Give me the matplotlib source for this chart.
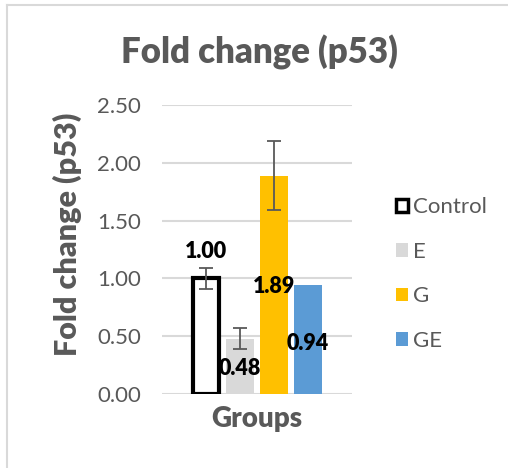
import matplotlib
matplotlib.use("Agg")
import matplotlib.pyplot as plt
from matplotlib.lines import Line2D
from matplotlib.patches import Patch

plt.rcParams['font.family'] = ['Lato', 'DejaVu Sans']

# ---- data ----
groups = ["Control", "E", "G", "GE"]
values = [1.00, 0.48, 1.89, 0.94]
errors = [0.09, 0.09, 0.30, 0.0]
value_labels = ["1.00", "0.48", "1.89", "0.94"]
yticks = [0.0, 0.5, 1.0, 1.5, 2.0, 2.5]
title = "Fold change (p53)"
ylabel = "Fold change (p53)"
xlabel = "Groups"

# ---- styles ----
face = ["white", "#d9d9d9", "#ffc000", "#5b9bd5"]
edge = ["black", "#d9d9d9", "#ffc000", "#5b9bd5"]
lw = [3, 0, 0, 0]
label_y = [1.23, 0.22, 0.93, 0.44]
gray = "#595959"
BW = 'heavy'

fig = plt.figure(figsize=(5.08, 4.68), dpi=100)
ax = fig.add_axes([162/508, 1-394/468, 190/508, 289/468])

step = 0.179
width = 0.147
xs = [(i - 1.5) * step for i in range(len(groups))]
for i, g in enumerate(groups):
    ax.bar(xs[i], values[i], width=width if i else width - 0.012, color=face[i],
           edgecolor=edge[i], linewidth=lw[i], label=g, zorder=3)
    if errors[i] > 0:
        ax.errorbar(xs[i], values[i], yerr=errors[i], fmt='none', ecolor=gray,
                    elinewidth=1.3, capsize=5, capthick=1.3, zorder=4)
    ax.text(xs[i], label_y[i], value_labels[i], ha='center', va='center',
            fontsize=15.5, fontweight=BW, color='black', zorder=5)

ax.set_xlim(-0.5, 0.5)
ax.set_ylim(0, 2.5)
ax.set_yticks(yticks)
ax.set_yticklabels([f"{t:.2f}" for t in yticks], fontsize=16, color=gray)
ax.set_xticks([])
ax.tick_params(axis='y', length=0, pad=15)
ax.grid(axis='y', color="#d9d9d9", linewidth=1.5, zorder=0)
for s in ax.spines.values():
    s.set_visible(False)

fig.text(259/508, 1-52/468, title, ha='center', va='center', fontsize=25,
         fontweight=BW, color=gray)
fig.text(67/508, 1-234/468, ylabel, ha='center', va='center', rotation=90,
         fontsize=22, fontweight=BW, color=gray)
fig.text(257/508, 1-419/468, xlabel, ha='center', va='center', fontsize=20,
         fontweight=BW, color=gray)

handles = [Patch(facecolor=face[i], edgecolor=edge[i], linewidth=2.5 if i == 0 else 0)
           for i in range(len(groups))]
leg = fig.legend(handles, groups, loc='center left', bbox_to_anchor=(385/508, 1-274/468),
                 frameon=False, fontsize=16, handlelength=0.55, handleheight=0.55,
                 handletextpad=0.2, labelspacing=1.1, borderpad=0)
for t in leg.get_texts():
    t.set_color(gray)

# figure border (left and top visible)
fig.add_artist(Line2D([7/508, 7/508], [0, 1-5/468], transform=fig.transFigure,
                      color="#d9d9d9", linewidth=1.5))
fig.add_artist(Line2D([7/508, 1], [1-5/468, 1-5/468], transform=fig.transFigure,
                      color="#d9d9d9", linewidth=1.5))

fig.savefig("out.png", dpi=100)
